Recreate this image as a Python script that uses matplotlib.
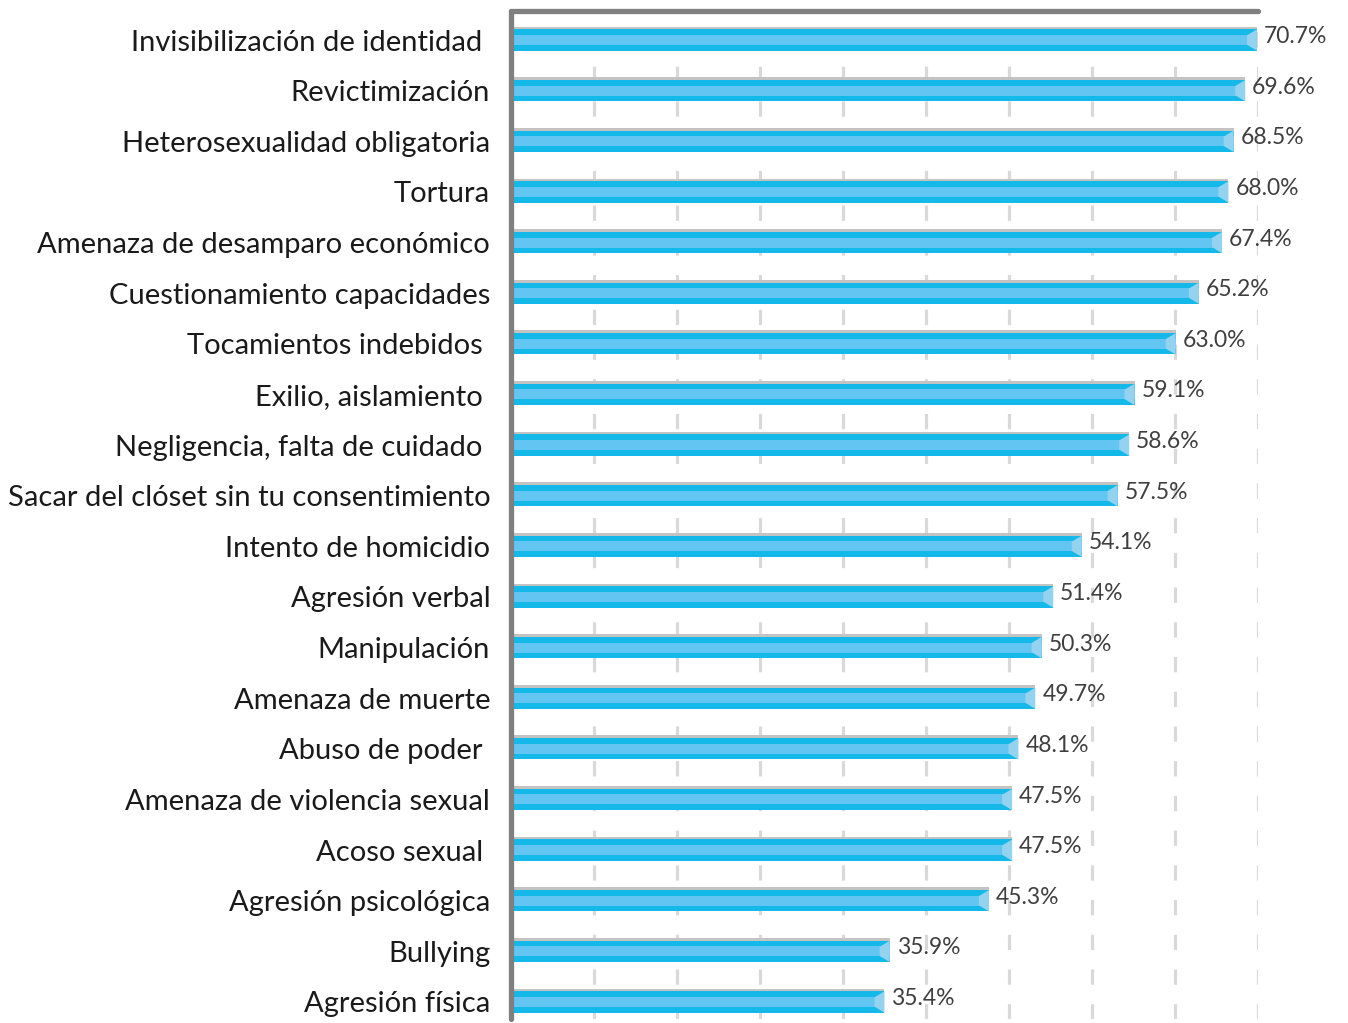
import matplotlib
matplotlib.use("Agg")
import matplotlib.pyplot as plt
from matplotlib.patches import Polygon

plt.rcParams['lines.scale_dashes'] = False

categories = [
    "Invisibilización de identidad ",
    "Revictimización",
    "Heterosexualidad obligatoria",
    "Tortura",
    "Amenaza de desamparo económico",
    "Cuestionamiento capacidades",
    "Tocamientos indebidos ",
    "Exilio, aislamiento ",
    "Negligencia, falta de cuidado ",
    "Sacar del clóset sin tu consentimiento",
    "Intento de homicidio",
    "Agresión verbal",
    "Manipulación",
    "Amenaza de muerte",
    "Abuso de poder ",
    "Amenaza de violencia sexual",
    "Acoso sexual ",
    "Agresión psicológica",
    "Bullying",
    "Agresión física",
]
values = [70.7, 69.6, 68.5, 68.0, 67.4, 65.2, 63.0, 59.1, 58.6, 57.5,
          54.1, 51.4, 50.3, 49.7, 48.1, 47.5, 47.5, 45.3, 35.9, 35.4]
value_labels = [f"{v:.1f}%" for v in values]

W, H = 1348, 1023
fig = plt.figure(figsize=(W / 100, H / 100), dpi=100)
ax_l, ax_r, ax_t, ax_b = 511, 1258, 11, 1019
ax = fig.add_axes([ax_l / W, 1 - ax_b / H, (ax_r - ax_l) / W, (ax_b - ax_t) / H])

px_per_x = 10.55
xmax = (ax_r - ax_l) / px_per_x
row_px = 50.63
n = len(categories)
ax.set_xlim(0, xmax)
ax.set_ylim(n - 1 + (ax_b - 1002) / row_px, -(40 - ax_t) / row_px)

# dashed vertical gridlines
for k in range(1, 10):
    ax.axvline(k * xmax / 9, color="#d9d9d9", lw=2.3, ls=(0, (11, 14)), zorder=0)

ypos = list(range(n))
bh = 21.3 / row_px
band = 10 / row_px
gl = 2.7 / row_px
ax.barh(ypos, values, height=bh, color="#15b9e9", zorder=2, linewidth=0)
ax.barh(ypos, values, height=band, color="#63c6f2", zorder=3, linewidth=0)
ax.barh([y - bh / 2 - gl / 2 for y in ypos], values, height=gl, color="#c3c3c3", zorder=3, linewidth=0)

cw = 10 / px_per_x
ci = 6 / row_px
for y, v, lab in zip(ypos, values, value_labels):
    top, bot = y - bh / 2, y + bh / 2
    poly = Polygon([(v, top), (v - cw, top + ci), (v - cw, bot - ci), (v, bot)],
                   closed=True, facecolor="#93d3ef", edgecolor="none", zorder=4)
    ax.add_patch(poly)
    ax.annotate(lab, xy=(v, y), xytext=(5, 2.5), textcoords="offset points",
                ha="left", va="center", fontsize=16.5, color="#3f3f3f",
                family="Lato", zorder=5)

ax.set_yticks(ypos)
ax.set_yticklabels(categories, fontsize=21, color="#1a1a1a", family="Lato")
ax.tick_params(axis="y", length=0, pad=15)
ax.set_xticks([])

for s in ["right", "bottom"]:
    ax.spines[s].set_visible(False)
for s in ["left", "top"]:
    ax.spines[s].set_color("#7f7f7f")
    ax.spines[s].set_linewidth(3.8)
    ax.spines[s].set_capstyle("round")
    ax.spines[s].set_zorder(6)

fig.savefig("out.png", dpi=100)
